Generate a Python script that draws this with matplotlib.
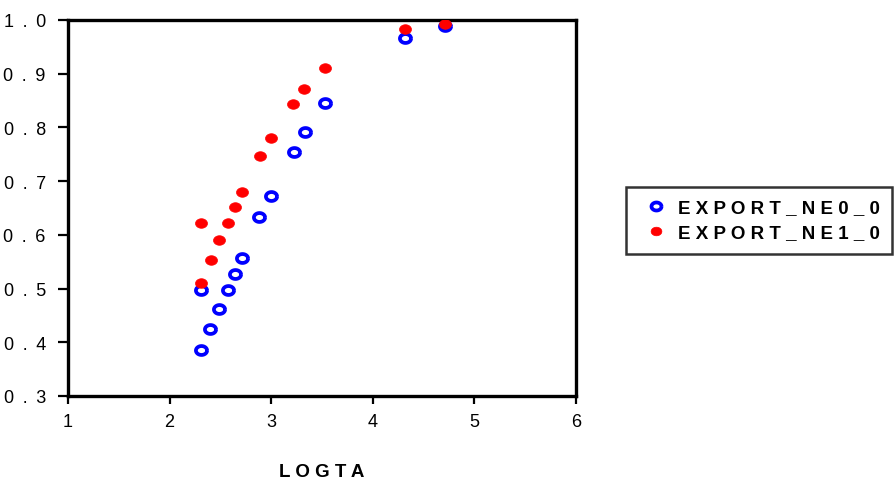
import matplotlib
matplotlib.use("Agg")
import matplotlib.pyplot as plt
from matplotlib.path import Path
from matplotlib.ticker import FuncFormatter
import numpy as np

plt.rcParams['font.family'] = ['Liberation Sans', 'DejaVu Sans']

# Data
x_ne0 = [2.31, 2.31, 2.40, 2.49, 2.57, 2.64, 2.71, 2.88, 3.00, 3.22, 3.33, 3.53, 4.32, 4.71]
y_ne0 = [0.386, 0.497, 0.425, 0.462, 0.497, 0.528, 0.557, 0.633, 0.673, 0.755, 0.791, 0.845, 0.967, 0.988]
x_ne1 = [2.31, 2.31, 2.41, 2.49, 2.57, 2.64, 2.71, 2.89, 3.00, 3.21, 3.32, 3.53, 4.32, 4.71]
y_ne1 = [0.511, 0.623, 0.554, 0.591, 0.623, 0.652, 0.679, 0.746, 0.780, 0.844, 0.871, 0.910, 0.984, 0.992]
label_ne0 = "E X P O R T _ N E 0 _ 0"
label_ne1 = "E X P O R T _ N E 1 _ 0"
x_label = "L O G T A"
x_ticks = [1, 2, 3, 4, 5, 6]
y_ticks = [0.3, 0.4, 0.5, 0.6, 0.7, 0.8, 0.9, 1.0]

t = np.linspace(0, 2 * np.pi, 60)
ellipse = Path(np.column_stack([np.cos(t), 0.8 * np.sin(t)]))

fig = plt.figure(figsize=(8.95, 4.81), dpi=100)
ax = fig.add_axes([68 / 895, 1 - 397 / 481, (576 - 68) / 895, (397 - 21) / 481])

ax.plot(x_ne0, y_ne0, linestyle='none', marker=ellipse, markersize=8,
        markerfacecolor='white', markeredgecolor='#0000ff', markeredgewidth=2.7,
        label=label_ne0, zorder=3)
ax.plot(x_ne1, y_ne1, linestyle='none', marker=ellipse, markersize=8.6,
        markerfacecolor='#ff0000', markeredgecolor='#ff0000', markeredgewidth=0.5,
        label=label_ne1, zorder=4)

ax.set_xlim(1, 6)
ax.set_ylim(0.3, 1.0)
ax.set_xticks(x_ticks)
ax.set_yticks(y_ticks)
ax.xaxis.set_major_formatter(FuncFormatter(lambda v, p: f"{v:.0f}"))
ax.yaxis.set_major_formatter(FuncFormatter(lambda v, p: " \u2009".join(f"{v:.1f}")))

for s in ax.spines.values():
    s.set_linewidth(2.4)
    s.set_color('black')
ax.tick_params(axis='both', direction='out', width=1.6, color='black', labelsize=13)
ax.tick_params(axis='y', length=7, pad=9)
ax.tick_params(axis='x', length=6, pad=6)

ax.set_xlabel(x_label, fontsize=13.5, fontweight='bold', labelpad=24)

leg = fig.legend(loc='upper left', bbox_to_anchor=(626 / 895, 1 - 188 / 481),
                 borderaxespad=0.0,
                 frameon=True, fancybox=False, edgecolor='black',
                 prop={'weight': 'bold', 'size': 13.5},
                 handletextpad=0.2, borderpad=0.65, labelspacing=0.42,
                 handlelength=1.9, markerscale=0.9)
leg.get_frame().set_linewidth(1.8)

fig.savefig("out.png", dpi=100)
